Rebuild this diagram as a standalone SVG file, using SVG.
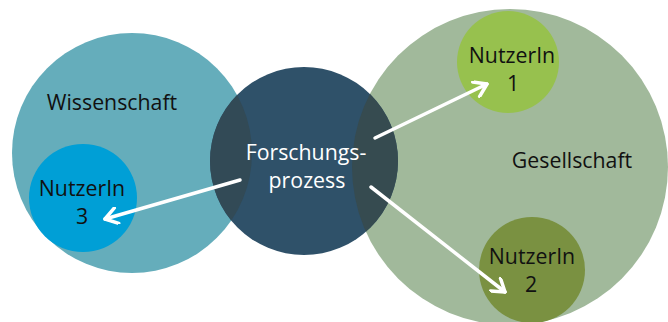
<svg xmlns="http://www.w3.org/2000/svg" width="668" height="322" viewBox="0 0 668 322">
<style>
text{font-family:"Open Sans","Noto Sans","Liberation Sans",sans-serif;font-size:21.3px;text-anchor:middle;fill:#111}
.w{fill:#fff}
.c{fill:none;stroke:#fff;stroke-width:3.5;stroke-linecap:round}
</style>
<defs>
<marker id="ah" viewBox="-14 -9 16 18" refX="0" refY="0" markerWidth="16" markerHeight="18" markerUnits="userSpaceOnUse" orient="auto">
<polyline points="-12,-8 0,0 -12,8" fill="none" stroke="#fff" stroke-width="3.5" stroke-linecap="round" stroke-linejoin="round"/>
</marker>
<clipPath id="cw"><circle cx="132" cy="153" r="120"/></clipPath>
<clipPath id="cg"><circle cx="510" cy="167" r="158"/></clipPath>
</defs>
<g id="wissenschaft">
<circle cx="132" cy="153" r="120" fill="#65adbb"/>
<text x="112" y="110">Wissenschaft</text>
</g>
<g id="gesellschaft">
<circle cx="510" cy="167" r="158" fill="#a1b99b"/>
<text x="572" y="168">Gesellschaft</text>
</g>
<g id="nutzerin3">
<circle cx="83" cy="198" r="54" fill="#009fd6"/>
<text x="82" y="196">NutzerIn</text>
<text x="82" y="224">3</text>
</g>
<g id="nutzerin1">
<circle cx="508" cy="62" r="51" fill="#97c14e"/>
<text x="512" y="63">NutzerIn</text>
<text x="513" y="91">1</text>
</g>
<g id="nutzerin2">
<circle cx="532" cy="270" r="53" fill="#7a9141"/>
<text x="532" y="264">NutzerIn</text>
<text x="531" y="292">2</text>
</g>
<g id="forschungsprozess">
<circle cx="304" cy="161" r="94" fill="#2f5169"/>
<circle cx="304" cy="161" r="94" fill="#324a56" clip-path="url(#cw)"/>
<circle cx="304" cy="161" r="94" fill="#364b50" clip-path="url(#cg)"/>
<text class="w" x="306" y="160">Forschungs-</text>
<text class="w" x="307" y="188">prozess</text>
</g>
<g id="connectors">
<line class="c" x1="375" y1="138" x2="487" y2="84" marker-end="url(#ah)"/>
<line class="c" x1="371" y1="187" x2="505" y2="292" marker-end="url(#ah)"/>
<line class="c" x1="240" y1="180" x2="105" y2="219" marker-end="url(#ah)"/>
</g>
</svg>
